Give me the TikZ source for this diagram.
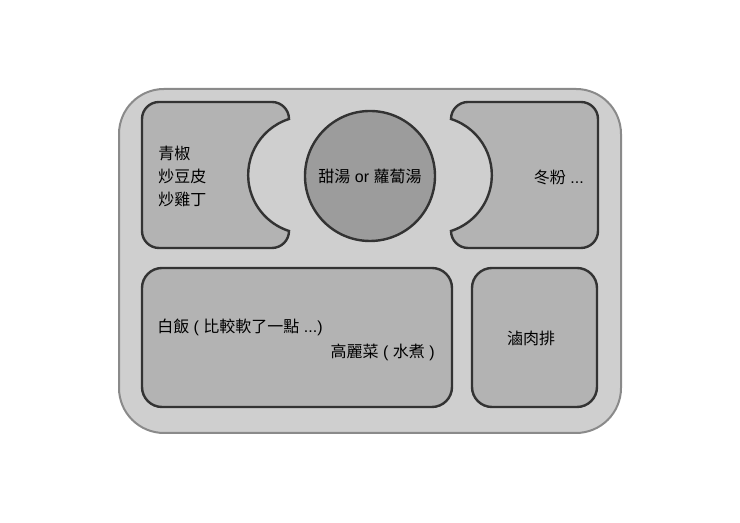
\documentclass[tikz,border=0pt]{standalone}
\usepackage{fontspec}
\setmainfont{Liberation Sans}
\newfontfamily\cjk{Noto Sans CJK TC}
\definecolor{trayfill}{HTML}{CFCFCF}
\definecolor{trayline}{HTML}{8A8A8A}
\definecolor{dishfill}{HTML}{B3B3B3}
\definecolor{dishline}{HTML}{333333}
\definecolor{soupfill}{HTML}{9C9C9C}

\begin{document}
\begin{tikzpicture}[x=0.75pt,y=0.75pt,
tray/.style={draw=trayline, fill=trayfill, line width=1.5pt},
dish/.style={draw=dishline, fill=dishfill, line width=1.8pt},
soupdish/.style={dish, circle, fill=soupfill, minimum size=97.5pt, inner sep=0pt},
food/.style={font=\fontsize{12}{17.25}\selectfont, inner sep=0pt}]
\useasboundingbox (0,0) rectangle (740,523);

\draw[tray, rounded corners=33.75pt] (119,90) rectangle (621,434);

\draw[dish] (159,421) -- (272,421) arc[start angle=90,end angle=0,radius=17]
  arc[start angle=107.82,end angle=252.18,radius=58.82]
  arc[start angle=0,end angle=-90,radius=17] -- (159,275)
  arc[start angle=270,end angle=180,radius=17] -- (142,404)
  arc[start angle=180,end angle=90,radius=17] -- cycle;
\draw[dish] (581,421) -- (468,421) arc[start angle=90,end angle=180,radius=17]
  arc[start angle=72.18,end angle=-72.18,radius=58.82]
  arc[start angle=180,end angle=270,radius=17] -- (581,275)
  arc[start angle=270,end angle=360,radius=17] -- (598,404)
  arc[start angle=0,end angle=90,radius=17] -- cycle;
\draw[dish, rounded corners=15pt] (142,116) rectangle (452,255);
\draw[dish, rounded corners=15pt] (472,116) rectangle (597,255);

\node (soup) [soupdish, food] at (370,347) {{\cjk 甜湯} or {\cjk 蘿蔔湯}};
\node (sides) [food, anchor=west, align=left] at (158,347) {\cjk 青椒\\\cjk 炒豆皮\\\cjk 炒雞丁};
\node (noodle) [food, anchor=east] at (584,346) {{\cjk 冬粉} ...};
\node (rice) [food, anchor=west] at (157,196) {{\cjk 白飯} ( {\cjk 比較軟了一點} ...)};
\node (cabbage) [food, anchor=east] at (435,171) {{\cjk 高麗菜} ( {\cjk 水煮} )};
\node (pork) [food] at (531,185) {\cjk 滷肉排};

\end{tikzpicture}
\end{document}
